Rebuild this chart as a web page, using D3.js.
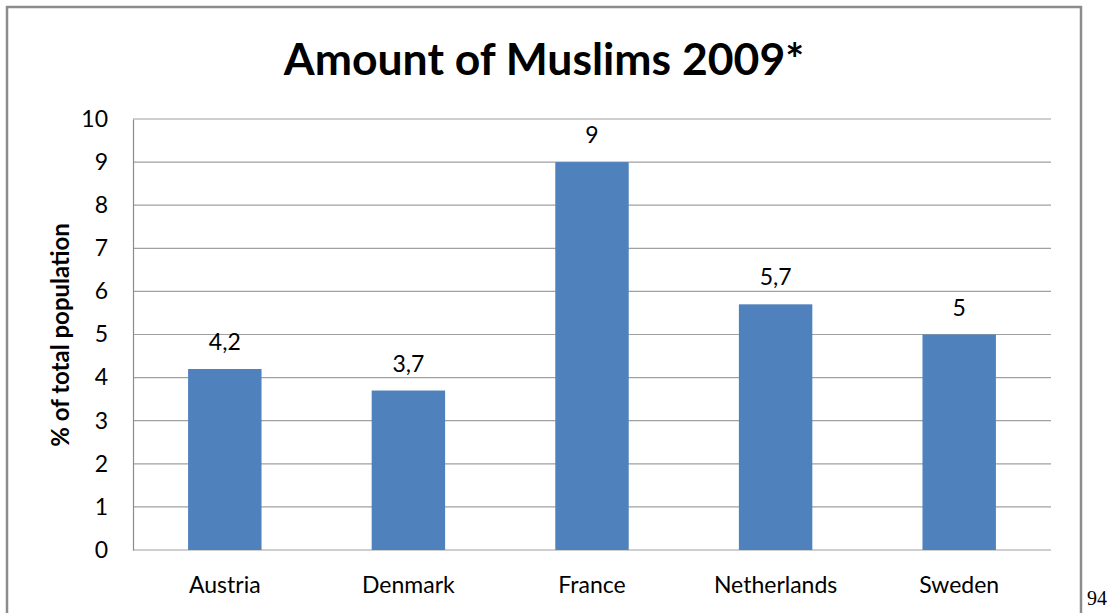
<!DOCTYPE html>
<html>
<head>
<meta charset="utf-8">
<script src="https://cdn.jsdelivr.net/npm/d3@7"></script>
<style>
  body { margin: 0; background: #fff; }
  svg { display: block; }
  text { font-family: Lato, "Open Sans", sans-serif; fill: #000; }
</style>
</head>
<body>
<svg id="chart"></svg>
<script>
// Data;
const countries = ['Austria', 'Denmark', 'France', 'Netherlands', 'Sweden'];
const shares = [4.2, 3.7, 9, 5.7, 5];
const yTicks = [0, 1, 2, 3, 4, 5, 6, 7, 8, 9, 10];

const width = 1112;
const height = 613;
const margin = { top: 119, right: 61, bottom: 63, left: 133 };

const svg = d3.select('#chart').attr('width', width).attr('height', height);

// Chart frame;
svg.append('rect')
    .attr('x', 7).attr('y', 7)
    .attr('width', 1074).attr('height', 620)
    .attr('fill', 'none')
    .attr('stroke', '#8c8c8c')
    .attr('stroke-width', 2.5);

// Page number outside frame;
svg.append('text')
    .attr('x', 1087).attr('y', 605)
    .style('font-family', '"Liberation Serif", serif')
    .style('font-size', '20px')
    .text('94');

// Title;
svg.append('text')
    .attr('x', 544).attr('y', 75)
    .attr('text-anchor', 'middle')
    .style('font-size', '44.5px')
    .style('font-weight', 'bold')
    .text('Amount of Muslims 2009*');

const x = d3.scaleBand()
    .domain(countries)
    .range([margin.left, width - margin.right])
    .paddingInner(0.6)
    .paddingOuter(0.3);

const y = d3.scaleLinear()
    .domain([0, 10])
    .range([height - margin.bottom, margin.top]);

// Gridlines;
svg.append('g')
    .selectAll('line')
    .data(yTicks)
    .enter()
    .append('line')
    .attr('x1', margin.left)
    .attr('x2', width - margin.right)
    .attr('y1', (d) => y(d))
    .attr('y2', (d) => y(d))
    .attr('stroke', '#a0a0a0')
    .attr('stroke-width', 1.2);

// Y axis;
const yAxis = svg.append('g')
    .attr('transform', `translate(${margin.left},0)`)
    .call(d3.axisLeft(y).tickValues(yTicks).tickSize(0).tickPadding(25));
yAxis.select('.domain').attr('stroke', '#8c8c8c').attr('stroke-width', 1.2);
yAxis.selectAll('text').style('font-size', '23px').style('font-family', 'Lato, "Open Sans", sans-serif').attr('fill', '#000');

// X axis labels;
const xAxis = svg.append('g')
    .attr('transform', `translate(0,${height - margin.bottom})`)
    .call(d3.axisBottom(x).tickSize(0).tickPadding(27));
xAxis.select('.domain').remove();
xAxis.selectAll('text').style('font-size', '23px').style('font-family', 'Lato, "Open Sans", sans-serif').attr('fill', '#000');

// Bars;
svg.selectAll('.bar')
    .data(countries)
    .enter()
    .append('rect')
    .attr('class', 'bar')
    .attr('x', (d) => x(d))
    .attr('width', x.bandwidth())
    .attr('y', (d, i) => y(shares[i]))
    .attr('height', (d, i) => y(0) - y(shares[i]))
    .attr('fill', '#4f81bd');

// Value labels;
svg.selectAll('.value')
    .data(countries)
    .enter()
    .append('text')
    .attr('class', 'value')
    .attr('x', (d) => x(d) + x.bandwidth() / 2)
    .attr('y', (d, i) => y(shares[i]) - 19)
    .attr('text-anchor', 'middle')
    .style('font-size', '23px')
    .text((d, i) => String(shares[i]).replace('.', ','));

// Y axis title;
svg.append('text')
    .attr('transform', 'translate(69,335) rotate(-90)')
    .attr('text-anchor', 'middle')
    .style('font-size', '24px')
    .style('font-weight', 'bold')
    .text('% of total population');
</script>
</body>
</html>
